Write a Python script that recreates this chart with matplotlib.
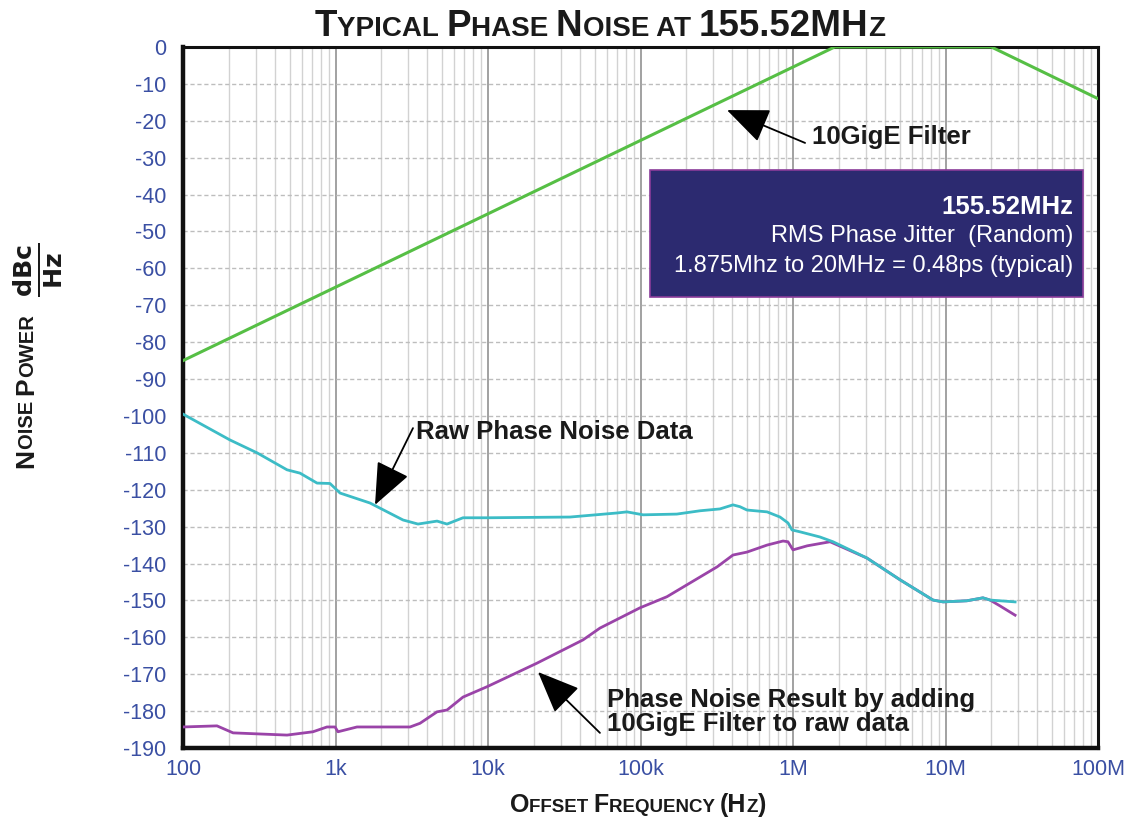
import matplotlib
matplotlib.use("Agg")
import matplotlib.pyplot as plt
from matplotlib.patches import Rectangle
from matplotlib.ticker import FixedLocator, LogLocator, NullFormatter

plt.rcParams['font.family'] = ['Liberation Sans', 'DejaVu Sans']

# ---------------- data ----------------
filter_freq = [100, 1.875e6, 2.0e7, 1.0e8]
filter_db = [-85, 0, 0, -14]

raw_freq = [100, 203, 306, 481, 585, 757, 920, 1071, 1684, 2772, 3475, 4632, 5387,
            6856, 9844, 34500, 70100, 81500, 1.04e5, 1.73e5, 2.46e5, 3.32e5, 4.04e5,
            4.49e5, 4.99e5, 6.76e5, 8.22e5, 9.27e5, 9.85e5, 1.11e6, 1.50e6, 1.83e6,
            3.05e6, 5.03e6, 8.28e6, 9.64e6, 1.38e7, 1.76e7, 1.96e7, 2.86e7]
raw_db = [-99.5, -106.5, -110, -114.6, -115.5, -118.2, -118.3, -120.9, -123.6, -128.2,
          -129.3, -128.5, -129.3, -127.6, -127.6, -127.4, -126.3, -126, -126.8, -126.6,
          -125.7, -125.2, -124.1, -124.6, -125.5, -126, -127.4, -129, -130.9, -131.4,
          -132.8, -134.1, -138.5, -144.4, -149.9, -150.4, -150.1, -149.3, -149.9, -150.4]

res_freq = [100, 167, 213, 481, 712, 879, 993, 1038, 1383, 3084, 3583, 4632, 5387,
            6856, 9844, 20960, 41980, 54200, 99300, 1.49e5, 3.18e5, 4.04e5, 4.99e5,
            6.76e5, 8.6e5, 9.27e5, 1.0e6, 1.24e6, 1.75e6, 3.05e6, 5.03e6, 8.28e6,
            9.64e6, 1.38e7, 1.76e7, 1.96e7, 2.28e7, 2.86e7]
res_db = [-184.3, -184, -185.9, -186.5, -185.6, -184.3, -184.3, -185.6, -184.3, -184.3,
          -183.3, -180.2, -179.7, -176.2, -173.4, -167, -160.7, -157.5, -152, -149,
          -140.9, -137.7, -136.9, -135, -133.9, -134.1, -136.3, -135.2, -134.1, -138.5,
          -144.4, -149.9, -150.4, -150.1, -149.3, -149.9, -151.5, -154]

x_ticks = [1e2, 1e3, 1e4, 1e5, 1e6, 1e7, 1e8]
x_tick_labels = ['100', '1k', '10k', '100k', '1M', '10M', '100M']
y_ticks = list(range(0, -191, -10))
y_tick_labels = [str(v) for v in y_ticks]

# ---------------- figure ----------------
fig = plt.figure(figsize=(11.27, 8.23), dpi=100)
ax = fig.add_axes([183/1127, 1-748/823, (1098-183)/1127, (748-47)/823])

TICK_BLUE = '#3a4fa3'
GREEN = '#56bf45'
CYAN = '#3cbcc6'
PURPLE = '#9a44a8'
NAVY = '#2c2a70'

ax.set_xscale('log')
ax.set_xlim(100, 1e8)
ax.set_ylim(-190, 0)

ax.xaxis.set_major_locator(FixedLocator(x_ticks))
ax.set_xticklabels(x_tick_labels)
ax.xaxis.set_minor_locator(LogLocator(base=10, subs=range(2, 10), numticks=50))
ax.xaxis.set_minor_formatter(NullFormatter())
ax.set_yticks(y_ticks)
ax.set_yticklabels(y_tick_labels)

ax.tick_params(axis='both', which='both', length=0, labelsize=15.5, colors=TICK_BLUE)
ax.tick_params(axis='y', pad=12)
ax.tick_params(axis='x', pad=8)

ax.grid(True, which='major', axis='x', color='#9a9a9a', lw=1.3)
ax.grid(True, which='minor', axis='x', color='#d2d2d2', lw=1.0)
ax.grid(True, which='major', axis='y', color='#bdbdbd', lw=1.0, ls=(0, (3, 2)))
ax.set_axisbelow(True)

for s in ax.spines.values():
    s.set_linewidth(2.2)
    s.set_color('#111111')
ax.spines['left'].set_linewidth(3.2)
ax.spines['bottom'].set_linewidth(3.2)

ax.plot(filter_freq, filter_db, color=GREEN, lw=2.2, zorder=3)
ax.plot(res_freq, res_db, color=PURPLE, lw=2.0, zorder=3)
ax.plot(raw_freq, raw_db, color=CYAN, lw=2.0, zorder=4)

# info box
ax.add_patch(Rectangle((0.510, 0.643), 0.474, 0.1815, transform=ax.transAxes,
                       facecolor=NAVY, edgecolor='#8a3c9a', lw=1.2, zorder=6))
ax.text(0.973, 0.772, '155.52MHz', transform=ax.transAxes, ha='right', va='center',
        color='white', fontsize=18.5, fontweight='bold', zorder=7)
ax.text(0.973, 0.730, 'RMS Phase Jitter  (Random)', transform=ax.transAxes, ha='right',
        va='center', color='white', fontsize=17, zorder=7)
ax.text(0.973, 0.688, '1.875Mhz to 20MHz = 0.48ps (typical)', transform=ax.transAxes,
        ha='right', va='center', color='white', fontsize=17, zorder=7)

arrow_kw = dict(arrowstyle='-|>,head_length=1.2,head_width=0.5', color='black', lw=1.3,
                mutation_scale=22, shrinkA=0, shrinkB=0)
ax.annotate('', xy=(3.69e5, -17.1), xytext=(1.2e6, -26), arrowprops=arrow_kw, zorder=8)
ax.text(1.33e6, -24.4, '10GigE Filter', ha='left', va='center', fontsize=18.5,
        fontweight='bold', color='#1a1a1a', zorder=8)
ax.annotate('', xy=(1816, -124.1), xytext=(3222, -103.3), arrowprops=arrow_kw, zorder=8)
ax.text(3378, -104.3, 'Raw Phase Noise Data', ha='left', va='center', fontsize=18.5,
        fontweight='bold', color='#1a1a1a', zorder=8)
ax.annotate('', xy=(21280, -169.4), xytext=(54200, -185.9), arrowprops=arrow_kw, zorder=8)
ax.text(60300, -180.3, 'Phase Noise Result by adding\n10GigE Filter to raw data', ha='left',
        va='center', fontsize=18.5, fontweight='bold', color='#1a1a1a', linespacing=1.02,
        zorder=8)

# ---------------- small caps helpers ----------------
renderer = fig.canvas.get_renderer()


def small_caps_h(chunks, cx, y):
    """chunks: list of (text, size). Horizontal, centered at cx (pixels), baseline y (pixels)."""
    arts = []
    x = 0.0
    for txt, size in chunks:
        t = fig.text(x / 1127, 1 - y / 823, txt, fontsize=size, fontweight='bold',
                     ha='left', va='baseline', color='#1a1a1a')
        w = t.get_window_extent(renderer).width
        arts.append((t, x))
        x += w
    x0 = cx - x / 2
    for t, xx in arts:
        t.set_x((x0 + xx) / 1127)


def small_caps_v(chunks, x, cy):
    """Rotated 90 deg; baseline at x (pixels), centered at cy (pixel from top)."""
    arts = []
    pos = 0.0
    for txt, size in chunks:
        t = fig.text(0, 0, txt, fontsize=size, fontweight='bold', ha='left', va='baseline',
                     color='#1a1a1a')
        w = t.get_window_extent(renderer).width
        t.set_rotation(90)
        t.set_rotation_mode('anchor')
        arts.append((t, pos))
        pos += w
    start = (823 - cy) - pos / 2
    for t, p in arts:
        t.set_position((x / 1127, (start + p) / 823))


small_caps_h([('T', 26.5), ('YPICAL ', 20), ('P', 26.5), ('HASE ', 20), ('N', 26.5),
              ('OISE AT ', 20), ('155.52MH', 26.5), ('Z', 20)], 600, 36)
small_caps_h([('O', 18), ('FFSET ', 13.5), ('F', 18), ('REQUENCY ', 13.5), ('(H', 18),
              ('Z', 13.5), (')', 18)], 638, 812)
small_caps_v([('N', 19), ('OISE ', 14.5), ('P', 19), ('OWER', 14.5)], 33, 391)
fig.text(38 / 1127, 1 - 270 / 823, r'$\mathbf{\frac{dBc}{Hz}}$', rotation=90, fontsize=26,
         ha='center', va='center', color='#1a1a1a')

fig.savefig('out.png', dpi=100)
